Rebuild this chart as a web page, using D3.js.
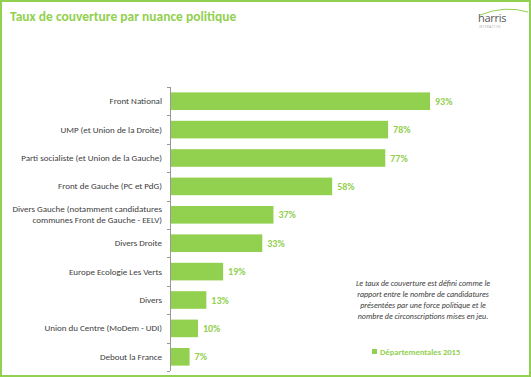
<!DOCTYPE html>
<html><head><meta charset="utf-8">
<script src="https://cdn.jsdelivr.net/npm/d3@7"></script>
<style>
body{margin:0;padding:0;background:#fff;}
svg{display:block;}
</style></head>
<body>
<script>
const categories = [
  ["Front National"],
  ["UMP (et Union de la Droite)"],
  ["Parti socialiste (et Union de la Gauche)"],
  ["Front de Gauche (PC et PdG)"],
  ["Divers Gauche (notamment candidatures", "communes Front de Gauche - EELV)"],
  ["Divers Droite"],
  ["Europe Ecologie Les Verts"],
  ["Divers"],
  ["Union du Centre (MoDem - UDI)"],
  ["Debout la France"]
];
const values = [93, 78, 77, 58, 37, 33, 19, 13, 10, 7];
const seriesName = "Départementales 2015";
const title = "Taux de couverture par nuance politique";
const noteLines = [
  "Le taux de couverture est défini comme le",
  "rapport entre le nombre de candidatures",
  "présentées par une force politique et le",
  "nombre de circonscriptions mises en jeu."
];

const W = 531, H = 377;
const green = "#92D050";
const font = "Carlito, Calibri, 'Liberation Sans', 'Open Sans', sans-serif";

const svg = d3.select("body").append("svg").attr("width", W).attr("height", H);

svg.append("rect").attr("x", 1).attr("y", 1).attr("width", W - 2).attr("height", H - 2)
  .attr("fill", "#fff").attr("stroke", green).attr("stroke-width", 2);

svg.append("text").attr("x", 10).attr("y", 21).text(title)
  .attr("font-family", font).attr("font-weight", "bold").attr("font-size", 13.5)
  .attr("fill", green);

// logo
const logo = svg.append("g");
logo.append("text").attr("x", 478).attr("y", 22).text("harris")
  .attr("font-family", "'Open Sans', sans-serif").attr("font-size", 11).attr("fill", "#555")
  .attr("letter-spacing", -0.3);
logo.append("text").attr("x", 479).attr("y", 28).text("INTERACTIVE")
  .attr("font-family", "'Open Sans', sans-serif").attr("font-size", 2.6).attr("fill", "#999")
  .attr("letter-spacing", 0.6);
logo.append("path").attr("d", "M480,15 Q505,5 528,12")
  .attr("fill", "none").attr("stroke", green).attr("stroke-width", 1);

const x0 = 170;
const x = d3.scaleLinear().domain([0, 100]).range([x0, x0 + 279.6]);
const y = d3.scaleBand().domain(d3.range(categories.length)).range([87, 371]).paddingInner(0.38).paddingOuter(0.19);

const g = svg.append("g");
g.selectAll("rect.bar").data(values).join("rect").attr("class", "bar")
  .attr("x", x(0)).attr("y", (d, i) => y(i))
  .attr("width", d => x(d) - x(0)).attr("height", y.bandwidth())
  .attr("fill", green);

g.selectAll("text.val").data(values).join("text").attr("class", "val")
  .attr("x", d => x(d) + 5).attr("y", (d, i) => y(i) + y.bandwidth() / 2 + 3.5)
  .text(d => d + "%")
  .attr("font-family", font).attr("font-weight", "bold").attr("font-size", 10)
  .attr("fill", green);

// axis
const step = y.step();
svg.append("line").attr("x1", x0 + 0.5).attr("x2", x0 + 0.5).attr("y1", 87).attr("y2", 371)
  .attr("stroke", "#999").attr("stroke-width", 1);
for (let i = 0; i <= categories.length; i++) {
  const yy = Math.round(87 + i * step) + 0.5;
  svg.append("line").attr("x1", x0 - 3).attr("x2", x0).attr("y1", yy).attr("y2", yy)
    .attr("stroke", "#999").attr("stroke-width", 1);
}

// category labels
categories.forEach((lines, i) => {
  const cy = y(i) + y.bandwidth() / 2;
  const lh = 11;
  const t = svg.append("text").attr("text-anchor", "end")
    .attr("font-family", font).attr("font-size", 9).attr("fill", "#404040");
  lines.forEach((l, k) => {
    t.append("tspan").attr("x", 162)
      .attr("y", cy + 3 + (k - (lines.length - 1) / 2) * lh).text(l);
  });
});

// note
noteLines.forEach((l, k) => {
  svg.append("text").attr("x", 423).attr("y", 286 + k * 11).attr("text-anchor", "middle")
    .text(l).attr("font-family", font).attr("font-style", "italic").attr("font-size", 8)
    .attr("fill", "#404040");
});

// legend
svg.append("rect").attr("x", 372).attr("y", 349).attr("width", 5).attr("height", 5).attr("fill", green);
svg.append("text").attr("x", 380).attr("y", 355).text(seriesName)
  .attr("font-family", font).attr("font-weight", "bold").attr("font-size", 8.5).attr("fill", green);
</script>
</body></html>
